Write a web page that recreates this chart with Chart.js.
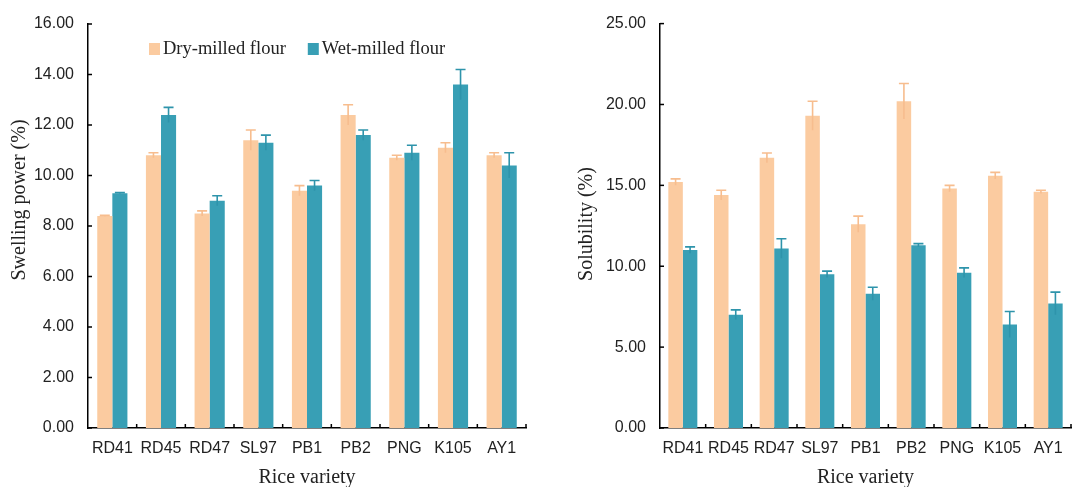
<!DOCTYPE html>
<html>
<head>
<meta charset="utf-8">
<script src="https://cdn.jsdelivr.net/npm/chart.js@4.4.1/dist/chart.umd.min.js"></script>
<style>
  body { margin: 0; background: #fff; }
  #wrap { position: relative; width: 1088px; height: 487px; }
  canvas { position: absolute; top: 0; }
</style>
</head>
<body>
<div id="wrap">
  <canvas id="swellChart" width="544" height="487" style="left:0"></canvas>
  <canvas id="solChart" width="544" height="487" style="left:544px"></canvas>
</div>
<script>
// rice varieties on both charts
const varieties = ["RD41", "RD45", "RD47", "SL97", "PB1", "PB2", "PNG", "K105", "AY1"];

// swelling power (%)
const swellDry = [8.4, 10.8, 8.5, 11.4, 9.4, 12.4, 10.7, 11.1, 10.8];
const swellDryErr = [0.02, 0.1, 0.1, 0.4, 0.2, 0.4, 0.1, 0.2, 0.1];
const swellWet = [9.3, 12.4, 9.0, 11.3, 9.6, 11.6, 10.9, 13.6, 10.4];
const swellWetErr = [0.02, 0.3, 0.2, 0.3, 0.2, 0.2, 0.3, 0.6, 0.5];

// solubility (%)
const solDry = [15.2, 14.4, 16.7, 19.3, 12.6, 20.2, 14.8, 15.6, 14.6];
const solDryErr = [0.2, 0.3, 0.3, 0.9, 0.5, 1.1, 0.2, 0.2, 0.1];
const solWet = [11.0, 7.0, 11.1, 9.5, 8.3, 11.3, 9.6, 6.4, 7.7];
const solWetErr = [0.2, 0.3, 0.6, 0.2, 0.4, 0.1, 0.3, 0.8, 0.7];

const dryColor = "#fbcba0";
const wetColor = "#389fb5";
const dryErrColor = "#f7bd8e";
const wetErrColor = "#2e94ab";

// error bars, drawn on top of each bar
const errorBars = {
  id: "errorBars",
  afterDatasetsDraw(chart) {
    const ctx = chart.ctx;
    const y = chart.scales.y;
    chart.data.datasets.forEach((ds, i) => {
      const meta = chart.getDatasetMeta(i);
      ctx.save();
      ctx.strokeStyle = ds.errColor;
      ctx.lineWidth = 1.6;
      meta.data.forEach((bar, j) => {
        const v = ds.data[j];
        const e = ds.errors[j];
        const top = y.getPixelForValue(v + e);
        const low = y.getPixelForValue(v - e);
        ctx.beginPath();
        ctx.moveTo(bar.x, low);
        ctx.lineTo(bar.x, top);
        ctx.moveTo(bar.x - 5, top);
        ctx.lineTo(bar.x + 5, top);
        ctx.stroke();
      });
      ctx.restore();
    });
  }
};

// short ticks pointing into the plot
const innerTicks = {
  id: "innerTicks",
  afterDraw(chart) {
    const ctx = chart.ctx;
    const x = chart.scales.x;
    const y = chart.scales.y;
    const area = chart.chartArea;
    ctx.save();
    ctx.strokeStyle = "#000";
    ctx.lineWidth = 1.5;
    y.ticks.forEach((t) => {
      const py = y.getPixelForValue(t.value);
      ctx.beginPath();
      ctx.moveTo(area.left, py);
      ctx.lineTo(area.left + 4, py);
      ctx.stroke();
    });
    for (let i = 1; i <= varieties.length; i++) {
      const px = x.getPixelForValue(i - 0.5);
      ctx.beginPath();
      ctx.moveTo(px, area.bottom);
      ctx.lineTo(px, area.bottom - 4);
      ctx.stroke();
    }
    ctx.restore();
  }
};

// rotated y-axis title at a set place
const yTitle = {
  id: "yTitle",
  afterDraw(chart, args, opts) {
    const ctx = chart.ctx;
    ctx.save();
    ctx.translate(opts.x, opts.y);
    ctx.rotate(-Math.PI / 2);
    ctx.font = "20px 'Liberation Serif'";
    ctx.fillStyle = "#222";
    ctx.textAlign = "center";
    ctx.textBaseline = "middle";
    ctx.fillText(opts.text, 0, 0);
    ctx.restore();
  }
};

// legend inside the plot area
const insideLegend = {
  id: "insideLegend",
  afterDraw(chart, args, opts) {
    if (!opts.show) return;
    const ctx = chart.ctx;
    ctx.save();
    ctx.font = "18.5px 'Liberation Serif'";
    ctx.textBaseline = "middle";
    ctx.fillStyle = "#222";
    let px = opts.x;
    chart.data.datasets.forEach((ds) => {
      ctx.fillStyle = ds.backgroundColor;
      ctx.fillRect(px, opts.y - 6, 11, 12);
      ctx.fillStyle = "#222";
      ctx.fillText(ds.label, px + 14, opts.y);
      px += 14 + ctx.measureText(ds.label).width + opts.gap;
    });
    ctx.restore();
  }
};

function makeChart(id, dry, dryErr, wet, wetErr, yMax, yStep, yText, pad, yWidth, catPct, legendOpts, titlePos) {
  const ctx = document.getElementById(id).getContext("2d");
  return new Chart(ctx, {
    type: "bar",
    data: {
      labels: varieties,
      datasets: [
        { label: "Dry-milled flour", data: dry, errors: dryErr, errColor: dryErrColor,
          backgroundColor: dryColor, borderWidth: 0 },
        { label: "Wet-milled flour", data: wet, errors: wetErr, errColor: wetErrColor,
          backgroundColor: wetColor, borderWidth: 0 }
      ]
    },
    options: {
      responsive: false,
      devicePixelRatio: 1,
      animation: false,
      categoryPercentage: catPct,
      barPercentage: 1.0,
      layout: { padding: pad },
      plugins: {
        legend: { display: false },
        tooltip: { enabled: false },
        insideLegend: legendOpts,
        yTitle: { text: yText, x: titlePos.x, y: titlePos.y }
      },
      scales: {
        x: {
          grid: { display: false, drawTicks: false },
          border: { color: "#000", width: 1.5 },
          ticks: { color: "#222", font: { family: "'Liberation Sans'", size: 16 }, padding: 11, maxRotation: 0, autoSkip: false },
          title: { display: true, text: "Rice variety", color: "#222",
                   font: { family: "'Liberation Serif'", size: 20, lineHeight: 1 }, padding: { top: 0, bottom: -1 } },
          afterFit: (s) => { s.height = 59; }
        },
        y: {
          min: 0,
          max: yMax,
          grid: { display: false, drawTicks: false },
          border: { color: "#000", width: 1.5 },
          ticks: { stepSize: yStep, color: "#222", padding: 14,
                   font: { family: "'Liberation Sans'", size: 16 },
                   callback: (v) => v.toFixed(2) },
          afterFit: (s) => { s.width = yWidth; }
        }
      }
    },
    plugins: [errorBars, innerTicks, yTitle, insideLegend]
  });
}

makeChart("swellChart", swellDry, swellDryErr, swellWet, swellWetErr, 16, 2, "Swelling power (%)",
  { top: 24, right: 18, left: 0, bottom: 0 }, 88, 0.62,
  { show: true, x: 149, y: 49, gap: 22 }, { x: 20, y: 200 });

makeChart("solChart", solDry, solDryErr, solWet, solWetErr, 25, 5, "Solubility (%)",
  { top: 19, right: 17, left: 0, bottom: 0 }, 116, 0.635,
  { show: false }, { x: 43, y: 224 });
</script>
</body>
</html>
